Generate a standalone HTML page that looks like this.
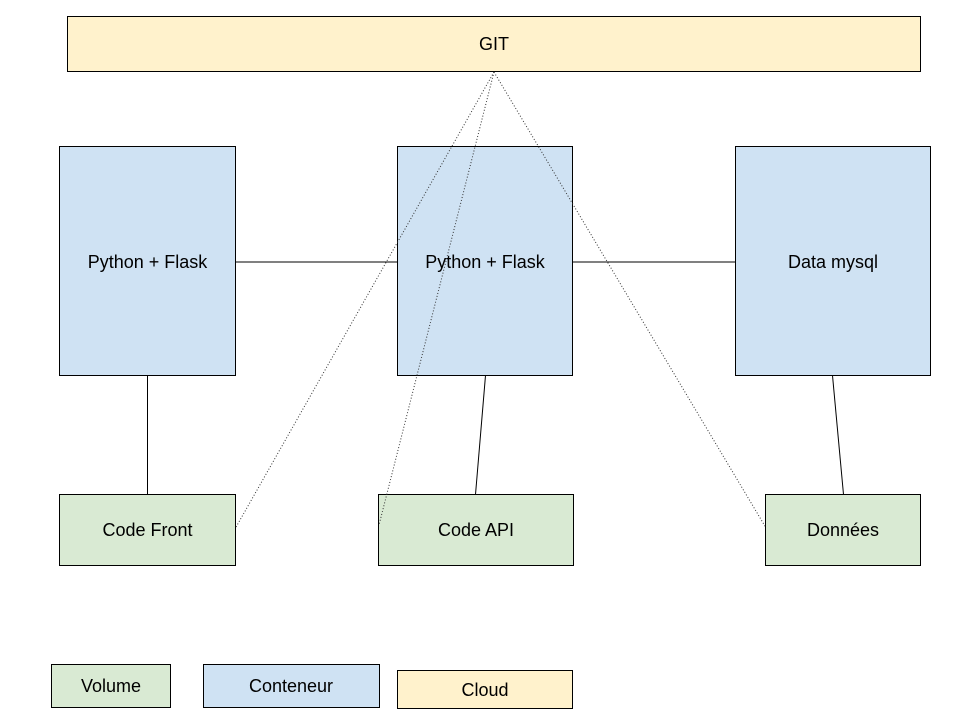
<!DOCTYPE html>
<html><head><meta charset="utf-8"><style>
html,body{margin:0;padding:0;background:#fff;}
svg{display:block;}
text{font-family:"Liberation Sans",Arial,sans-serif;font-size:18px;fill:#000;}
</style></head><body>
<svg width="960" height="720" viewBox="0 0 960 720" xmlns="http://www.w3.org/2000/svg">
<g stroke="#000" stroke-width="1">
<rect x="67.5" y="16.5" width="853" height="55" fill="#fff2cc"/>
<rect x="59.5" y="146.5" width="176" height="229" fill="#cfe2f3"/>
<rect x="397.5" y="146.5" width="175" height="229" fill="#cfe2f3"/>
<rect x="735.5" y="146.5" width="195" height="229" fill="#cfe2f3"/>
<rect x="59.5" y="494.5" width="176" height="71" fill="#d9ead3"/>
<rect x="378.5" y="494.5" width="195" height="71" fill="#d9ead3"/>
<rect x="765.5" y="494.5" width="155" height="71" fill="#d9ead3"/>
<rect x="51.5" y="664.5" width="119" height="43" fill="#d9ead3"/>
<rect x="203.5" y="664.5" width="176" height="43" fill="#cfe2f3"/>
<rect x="397.5" y="670.5" width="175" height="38" fill="#fff2cc"/>
<line x1="235.5" y1="262" x2="397.5" y2="262"/>
<line x1="572.5" y1="262" x2="735.5" y2="262"/>
<line x1="147.5" y1="375.5" x2="147.5" y2="494.5"/>
<line x1="485.5" y1="375.5" x2="475.5" y2="494.5"/>
<line x1="832.5" y1="375.5" x2="843.5" y2="494.5"/>
<g stroke-dasharray="1,2" stroke="#333">
<line x1="494" y1="72" x2="235.5" y2="528"/>
<line x1="494" y1="72" x2="379" y2="525"/>
<line x1="494" y1="72" x2="765.5" y2="527"/>
</g>
</g>
<g text-anchor="middle">
<text x="494" y="50">GIT</text>
<text x="147.5" y="268">Python + Flask</text>
<text x="485" y="268">Python + Flask</text>
<text x="833" y="268">Data mysql</text>
<text x="147.5" y="536">Code Front</text>
<text x="476" y="536">Code API</text>
<text x="843" y="536">Données</text>
<text x="111" y="692">Volume</text>
<text x="291" y="692">Conteneur</text>
<text x="485" y="696">Cloud</text>
</g>
</svg>
</body></html>
